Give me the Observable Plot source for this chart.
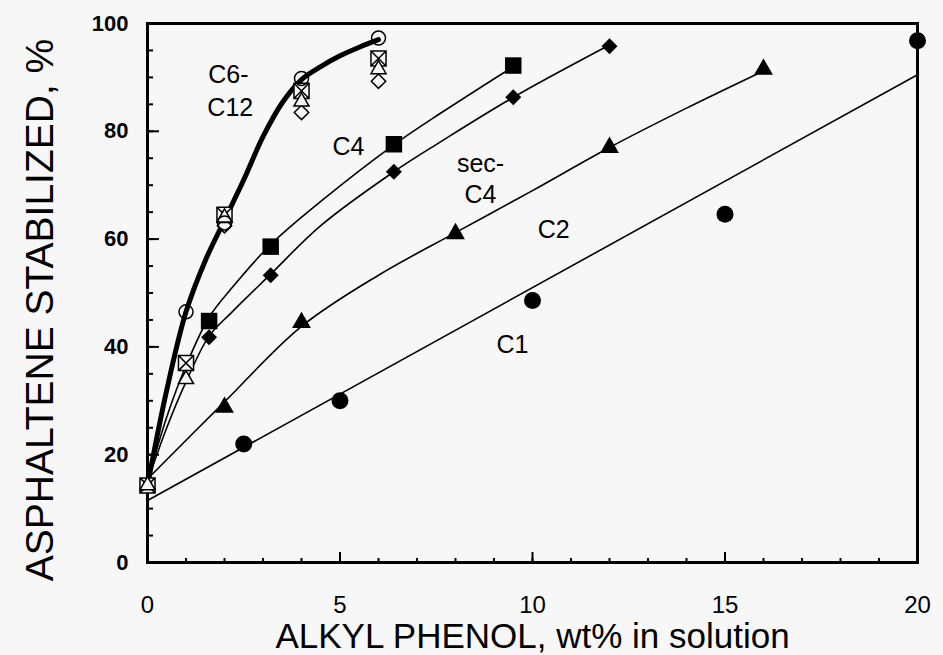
<!DOCTYPE html>
<html><head><meta charset="utf-8">
<script src="https://cdn.jsdelivr.net/npm/d3@7"></script>
<script src="https://cdn.jsdelivr.net/npm/@observablehq/plot@0.6"></script>
<style>
html,body{margin:0;padding:0;background:#f7f7f7;}
#chart svg{display:block;}
</style>
</head><body><div id="chart"></div>
<script>
// ---- data (x = alkyl phenol wt%, y = asphaltene stabilized %) ----
// C1 : filled circles + straight fit
const c1X = [2.5, 5, 10, 15, 20];
const c1Y = [22, 30, 48.6, 64.6, 96.8];
const c1FitX = [0, 20];
const c1FitY = [11.5, 90.5];
// C2 : filled triangles
const c2X = [2, 4, 8, 12, 16];
const c2Y = [28.8, 44.5, 61, 77, 91.5];
const c2FitX = [0, 2, 4, 6, 8, 10, 12, 14, 16];
const c2FitY = [15.5, 29.8, 43.8, 53.3, 61.2, 69, 77, 84.3, 91.2];
// C4 : filled squares
const c4X = [1.6, 3.2, 6.4, 9.5];
const c4Y = [44.8, 58.6, 77.6, 92.2];
const c4FitX = [0, 0.5, 1, 1.6, 2.2, 3.2, 4.5, 6.4, 7.6, 9.5];
const c4FitY = [15, 27, 36.5, 45.5, 51, 59, 67, 77.5, 83.3, 92];
// sec-C4 : filled diamonds
const secC4X = [1.6, 3.2, 6.4, 9.5, 12];
const secC4Y = [41.8, 53.3, 72.5, 86.3, 95.8];
const secC4FitX = [0, 0.5, 1, 1.6, 2.2, 3.2, 4.5, 6.4, 7.6, 9.5, 12];
const secC4FitY = [15, 25, 33.5, 42, 46.5, 53.5, 62.5, 72.5, 78, 86.3, 96];
// C6-C12 : open symbols, one bold fit
const openCircleX = [1, 2, 4, 6];
const openCircleY = [46.5, 63, 89.8, 97.3];
const openSquareXX = [0, 1, 2, 4, 6];
const openSquareXY = [14.3, 37, 64.5, 87.5, 93.5];
const openTriangleX = [0, 1, 2, 4, 6];
const openTriangleY = [14.3, 34, 64, 85.5, 91.5];
const openDiamondX = [2, 4, 6];
const openDiamondY = [62.5, 83.5, 89.3];
const c6c12FitX = [0, 0.5, 1, 1.5, 2, 2.5, 3, 3.5, 4, 4.5, 5, 5.5, 6];
const c6c12FitY = [14.3, 32, 46.5, 56, 63.5, 71, 79, 85.3, 89.6, 92, 94, 95.6, 97];
// annotations
const labelText = ["C6-", "C12", "C4", "sec-", "C4", "C2", "C1"];
const labelX = [2.1, 2.15, 5.22, 8.65, 8.65, 10.55, 9.48];
const labelY = [90.4, 84.4, 77.0, 73.9, 68.1, 61.7, 40.4];
// axes
const xTicks = [0, 5, 10, 15, 20];
const xMinorTicks = [0,1,2,3,4,5,6,7,8,9,10,11,12,13,14,15,16,17,18,19,20];
const yTicks = [0, 20, 40, 60, 80, 100];
const yMinorTicks = [0,5,10,15,20,25,30,35,40,45,50,55,60,65,70,75,80,85,90,95,100];
const xTitle = "ALKYL PHENOL, wt% in solution";
const yTitle = "ASPHALTENE STABILIZED, %";

const pts = (xs, ys) => xs.map((x, i) => ({x, y: ys[i]}));
const squareX = {draw(ctx, size) {
  const w = Math.sqrt(size) / 2;
  ctx.moveTo(-w, -w); ctx.lineTo(w, -w); ctx.lineTo(w, w); ctx.lineTo(-w, w); ctx.closePath();
  ctx.moveTo(-w, -w); ctx.lineTo(w, w);
  ctx.moveTo(w, -w); ctx.lineTo(-w, w);
}};
const BG = "#f7f7f7";
const font = "'Liberation Sans', Arial, Helvetica, sans-serif";

const chart = Plot.plot({
  width: 943, height: 655,
  marginLeft: 147, marginRight: 26, marginTop: 23, marginBottom: 93,
  style: {background: BG, fontFamily: font, color: "#000"},
  x: {domain: [0, 20]},
  y: {domain: [0, 100]},
  marks: [
    // ticks (inward)
    Plot.axisX({ticks: xMinorTicks, tickSize: -4, text: null, label: null, strokeWidth: 2}),
    Plot.axisX({ticks: xTicks, tickSize: -10, text: null, label: null, strokeWidth: 2}),
    Plot.axisX({ticks: xTicks, tickSize: 0, tickPadding: 33, label: null, fontSize: 24, tickFormat: d => String(d)}),
    Plot.axisY({ticks: yMinorTicks, tickSize: -6, text: null, label: null, strokeWidth: 2}),
    Plot.axisY({ticks: yTicks, tickSize: -12, text: null, label: null, strokeWidth: 2}),
    Plot.axisY({ticks: yTicks, tickSize: 0, tickPadding: 19, label: null, fontSize: 22, fontWeight: "bold", tickFormat: d => String(d)}),
    Plot.frame({stroke: "#000", strokeWidth: 3}),
    // fit lines
    Plot.line(pts(c1FitX, c1FitY), {x: "x", y: "y", stroke: "#000", strokeWidth: 1.6}),
    Plot.line(pts(c2FitX, c2FitY), {x: "x", y: "y", stroke: "#000", strokeWidth: 1.6, curve: "catmull-rom"}),
    Plot.line(pts(c4FitX, c4FitY), {x: "x", y: "y", stroke: "#000", strokeWidth: 1.6, curve: "catmull-rom"}),
    Plot.line(pts(secC4FitX, secC4FitY), {x: "x", y: "y", stroke: "#000", strokeWidth: 1.6, curve: "catmull-rom"}),
    Plot.line(pts(c6c12FitX, c6c12FitY), {x: "x", y: "y", stroke: "#000", strokeWidth: 5, curve: "catmull-rom"}),
    // filled markers
    Plot.dot(pts(c1X, c1Y), {x: "x", y: "y", r: 8.5, fill: "#000", symbol: "circle"}),
    Plot.dot(pts(c2X, c2Y), {x: "x", y: "y", r: 7, fill: "#000", symbol: "triangle"}),
    Plot.dot(pts(c4X, c4Y), {x: "x", y: "y", r: 9.3, fill: "#000", symbol: "square"}),
    Plot.dot(pts(secC4X, secC4Y), {x: "x", y: "y", r: 7.2, fill: "#000", symbol: "diamond2"}),
    // open markers
    Plot.dot(pts(openDiamondX, openDiamondY), {x: "x", y: "y", r: 6.5, fill: BG, stroke: "#000", strokeWidth: 1.5, symbol: "diamond2"}),
    Plot.dot(pts(openSquareXX, openSquareXY), {x: "x", y: "y", r: 8.5, fill: BG, stroke: "#000", strokeWidth: 1.5, symbol: squareX}),
    Plot.dot(pts(openTriangleX, openTriangleY), {x: "x", y: "y", r: 5.6, fill: BG, stroke: "#000", strokeWidth: 1.5, symbol: "triangle"}),
    Plot.dot(pts(openCircleX, openCircleY), {x: "x", y: "y", r: 7, fill: "none", stroke: "#000", strokeWidth: 1.5, symbol: "circle"}),
    // labels
    Plot.text(labelText.map((t, i) => ({t, x: labelX[i], y: labelY[i]})), {x: "x", y: "y", text: "t", fontSize: 25, fill: "#000"}),
    // axis titles
    Plot.text([xTitle], {frameAnchor: "bottom", lineAnchor: "middle", textAnchor: "middle", dy: 74, fontSize: 35, fill: "#000"}),
    Plot.text([yTitle], {frameAnchor: "left", rotate: -90, textAnchor: "middle", lineAnchor: "middle", dx: -107, dy: 17, fontSize: 39, fill: "#000"})
  ]
});
document.getElementById("chart").appendChild(chart);
</script>
</body></html>
